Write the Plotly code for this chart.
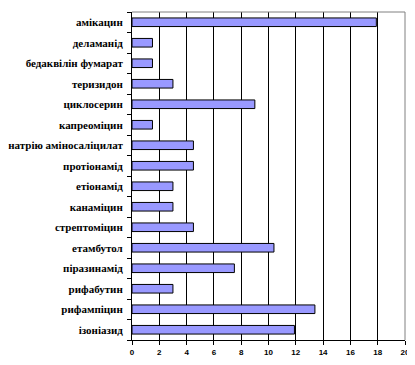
import plotly.graph_objects as go

drugs = ["ізоніазид", "рифампіцин", "рифабутин", "піразинамід", "етамбутол",
         "стрептоміцин", "канаміцин", "етіонамід", "протіонамід",
         "натрію аміносаліцилат", "капреоміцин", "циклосерин", "теризидон",
         "бедаквілін фумарат", "деламанід", "амікацин"]
values = [11.9, 13.4, 3.0, 7.5, 10.4, 4.5, 3.0, 3.0, 4.5, 4.5, 1.5, 9.0, 3.0, 1.5, 1.5, 17.9]
x_ticks = [0, 2, 4, 6, 8, 10, 12, 14, 16, 18, 20]

fig = go.Figure(go.Bar(
    x=values, y=drugs, orientation="h",
    marker=dict(color="#9999FF", line=dict(color="black", width=1)),
    width=0.42,
))

# page body has an 8px margin, so figure is sized/offset to compensate
fig.update_layout(
    width=407, height=357,
    margin=dict(l=124, r=10, t=4, b=25),
    plot_bgcolor="white", paper_bgcolor="white",
    showlegend=False,
    xaxis=dict(range=[0, 20], tickvals=x_ticks, showgrid=True, gridcolor="black",
               gridwidth=1, zeroline=False, showline=True, linecolor="black", linewidth=1,
               ticks="outside", ticklen=4, tickcolor="black", automargin=False,
               tickfont=dict(family="Liberation Sans", size=8, color="black", weight="bold")),
    yaxis=dict(range=[-0.5, 15.5], showgrid=False, zeroline=False, showline=True,
               linecolor="black", linewidth=1, ticks="outside", ticklen=4,
               tickcolor="black", tickson="boundaries", automargin=False,
               ticklabelstandoff=6,
               tickfont=dict(family="Liberation Serif", size=11, color="black", weight="bold")),
    shapes=[
        dict(type="line", xref="paper", yref="paper", x0=0, x1=1, y0=1, y1=1,
             line=dict(color="#808080", width=1)),
        dict(type="line", xref="paper", yref="paper", x0=1, x1=1, y0=0, y1=1,
             line=dict(color="#808080", width=1)),
    ],
)

fig.write_html("out.html")
